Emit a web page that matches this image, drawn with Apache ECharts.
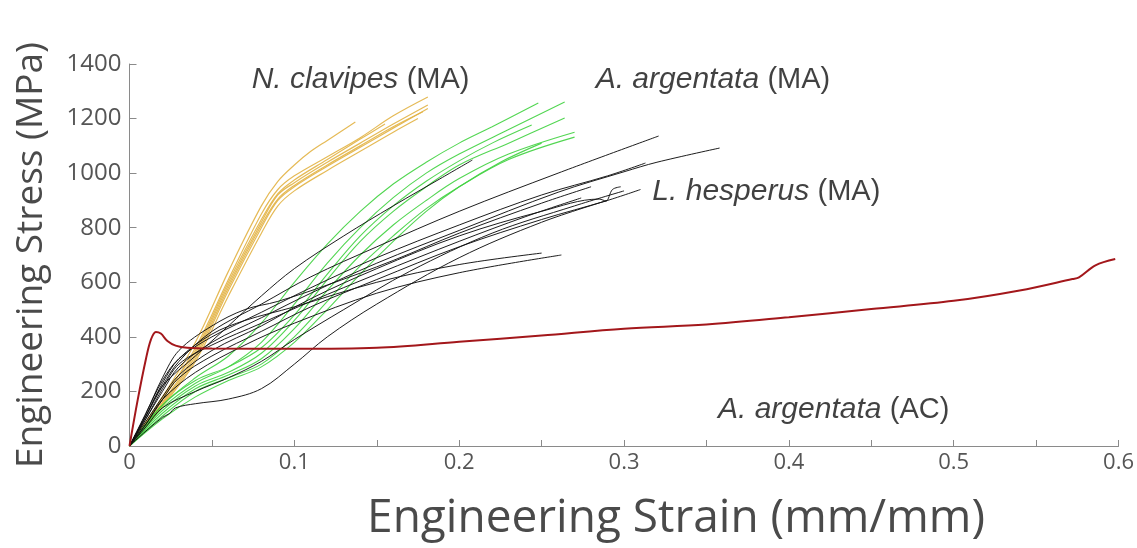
<!DOCTYPE html>
<html><head><meta charset="utf-8">
<script src="https://cdn.jsdelivr.net/npm/echarts@6/dist/echarts.min.js"></script>
<style>html,body{margin:0;padding:0;background:#fff}#c{width:1137px;height:548px}</style>
</head><body><div id="c"></div>
<script>
// ---- data (strain, stress MPa) ----
const xTicks = [0, 0.1, 0.2, 0.3, 0.4, 0.5, 0.6];
const yTicks = [0, 200, 400, 600, 800, 1000, 1200, 1400];

// N. clavipes (MA) - gold
const nc1 = [[0,0],[0.02,180],[0.04,380],[0.06,640],[0.08,880],[0.09,970],[0.1,1030],[0.11,1080],[0.12,1120],[0.137,1187]];
const nc2 = [[0,0],[0.02,170],[0.04,360],[0.06,610],[0.08,850],[0.09,940],[0.1,990],[0.12,1060],[0.14,1130],[0.16,1210],[0.181,1279]];
const nc3 = [[0,0],[0.02,160],[0.04,340],[0.06,590],[0.08,820],[0.09,920],[0.1,965],[0.12,1040],[0.14,1110],[0.16,1180],[0.181,1250]];
const nc4 = [[0,0],[0.02,150],[0.04,320],[0.06,570],[0.08,800],[0.09,900],[0.1,950],[0.12,1025],[0.14,1095],[0.16,1165],[0.181,1237]];
const nc5 = [[0,0],[0.02,145],[0.04,310],[0.06,550],[0.08,780],[0.09,880],[0.1,935],[0.12,1010],[0.14,1080],[0.16,1150],[0.175,1200]];
const nc6 = [[0,0],[0.02,175],[0.04,350],[0.06,600],[0.08,830],[0.09,925],[0.1,975],[0.12,1050],[0.14,1125],[0.155,1180]];
const nc7 = [[0,0],[0.02,155],[0.04,330],[0.06,580],[0.08,810],[0.09,905],[0.1,955],[0.12,1030],[0.14,1100],[0.16,1170],[0.178,1225]];

// A. argentata (MA) - green
const aa1 = [[0,0],[0.02,150],[0.04,250],[0.06,330],[0.08,450],[0.1,600],[0.12,740],[0.14,860],[0.16,960],[0.18,1040],[0.2,1110],[0.22,1170],[0.248,1257]];
const aa2 = [[0,0],[0.02,140],[0.04,230],[0.06,290],[0.08,380],[0.1,520],[0.12,670],[0.14,800],[0.16,910],[0.18,1000],[0.2,1070],[0.23,1160],[0.264,1261]];
const aa3 = [[0,0],[0.02,130],[0.04,220],[0.06,270],[0.08,340],[0.1,460],[0.12,610],[0.14,750],[0.16,860],[0.18,950],[0.2,1030],[0.23,1110],[0.264,1202]];
const aa4 = [[0,0],[0.02,120],[0.04,210],[0.06,260],[0.08,320],[0.1,430],[0.12,570],[0.14,700],[0.16,810],[0.18,900],[0.2,980],[0.23,1070],[0.27,1150]];
const aa5 = [[0,0],[0.02,110],[0.04,200],[0.06,250],[0.08,300],[0.1,400],[0.12,530],[0.14,660],[0.16,770],[0.18,870],[0.2,950],[0.23,1050],[0.27,1132]];
const aa6 = [[0,0],[0.02,150],[0.04,240],[0.06,290],[0.08,360],[0.1,480],[0.12,630],[0.14,770],[0.16,880],[0.18,970],[0.2,1045],[0.22,1110],[0.244,1176]];
const aa7 = [[0,0],[0.02,100],[0.04,180],[0.06,240],[0.08,290],[0.1,380],[0.12,500],[0.14,630],[0.16,750],[0.18,860],[0.2,950],[0.225,1040],[0.25,1110]];

// L. hesperus (MA) - black
const lh1 = [[0,0],[0.01,110],[0.02,220],[0.03,310],[0.05,420],[0.08,520],[0.11,620],[0.15,730],[0.2,860],[0.26,1000],[0.321,1136]];
const lh2 = [[0,0],[0.01,100],[0.02,200],[0.03,290],[0.05,380],[0.08,470],[0.11,560],[0.15,670],[0.2,790],[0.26,930],[0.3,1005],[0.32,1040],[0.358,1092]];
const lh3 = [[0,0],[0.01,120],[0.02,240],[0.03,320],[0.05,400],[0.08,490],[0.11,580],[0.15,690],[0.2,810],[0.25,920],[0.29,990],[0.313,1037]];
const lh4 = [[0,0],[0.01,90],[0.02,180],[0.03,260],[0.05,350],[0.08,440],[0.11,540],[0.15,650],[0.2,770],[0.25,860],[0.285,905],[0.289,898],[0.293,940],[0.298,950]];
const lh5 = [[0,0],[0.01,100],[0.02,210],[0.03,300],[0.05,370],[0.08,450],[0.11,530],[0.15,630],[0.2,750],[0.24,840],[0.274,909]];
const lh6 = [[0,0],[0.01,80],[0.02,170],[0.03,250],[0.05,330],[0.08,420],[0.11,510],[0.15,610],[0.2,730],[0.25,830],[0.29,900],[0.31,940]];
const lh7 = [[0,0],[0.01,110],[0.02,220],[0.04,330],[0.06,440],[0.08,550],[0.1,650],[0.13,770],[0.16,880],[0.19,985],[0.208,1048]];
const lh8 = [[0,0],[0.01,110],[0.02,230],[0.03,320],[0.05,410],[0.07,460],[0.1,510],[0.15,600],[0.2,665],[0.25,707]];
const lh9 = [[0,0],[0.01,80],[0.02,170],[0.04,270],[0.07,370],[0.1,450],[0.15,560],[0.2,635],[0.262,700]];
const lh10 = [[0,0],[0.01,55],[0.02,105],[0.024,118],[0.028,140],[0.04,155],[0.06,172],[0.08,210],[0.1,300],[0.12,400],[0.15,520],[0.2,690],[0.25,820],[0.29,900]];
const lh11 = [[0,0],[0.01,70],[0.02,140],[0.04,200],[0.06,250],[0.08,310],[0.1,390],[0.13,500],[0.17,640],[0.22,780],[0.27,880],[0.3,935]];
const lh12 = [[0,0],[0.01,120],[0.02,250],[0.03,350],[0.05,440],[0.07,500],[0.09,530],[0.12,590],[0.16,680],[0.2,780],[0.25,890],[0.28,950]];

// A. argentata (AC) - red
const ac1 = [[0,0],[0.005,170],[0.01,320],[0.013,390],[0.016,418],[0.019,412],[0.023,385],[0.028,368],[0.035,360],[0.05,357],[0.1,356],[0.15,360],[0.2,382],[0.25,405],[0.3,430],[0.35,445],[0.4,472],[0.45,502],[0.5,532],[0.54,570],[0.572,612],[0.576,618],[0.586,662],[0.598,685]];

// annotations: [x, y, italic part, plain part]
const annotations = [
  [0.0741, 1341, 'N. clavipes', '(MA)'],
  [0.2828, 1341, 'A. argentata', '(MA)'],
  [0.3172, 931, 'L. hesperus', '(MA)'],
  [0.357, 132, 'A. argentata', '(AC)']
];

const goldSet = [nc1, nc2, nc3, nc4, nc5, nc6, nc7];
const greenSet = [aa1, aa2, aa3, aa4, aa5, aa6, aa7];
const blackSet = [lh1, lh2, lh3, lh4, lh5, lh6, lh7, lh8, lh9, lh10, lh11, lh12];
const redSet = [ac1];

function lines(set, color, width, opacity) {
  return set.map(d => ({
    type: 'line', data: d, showSymbol: false, symbol: 'none', smooth: 0.35,
    lineStyle: { color: color, width: width, opacity: opacity }, silent: true, z: 2
  }));
}

const series = [].concat(
  lines(goldSet, '#e2b244', 1.2, 0.9),
  lines(greenSet, '#3fd13f', 1.1, 0.9),
  lines(blackSet, '#111', 1, 0.95),
  lines(redSet, '#a3171b', 2, 1),
  [{
    type: 'scatter', symbolSize: 0, silent: true, z: 5,
    data: annotations.map(a => ({ value: [a[0], a[1]], name: a[2], plain: a[3] })),
    label: {
      show: true, position: 'right', distance: 0,
      formatter: p => '{i|' + p.data.name + ' }{n|' + p.data.plain + '}',
      rich: {
        i: { fontFamily: 'Liberation Sans', fontStyle: 'italic', fontSize: 30, color: '#111' },
        n: { fontFamily: 'Liberation Sans', fontSize: 29, color: '#111' }
      }
    }
  }]
);

const chart = echarts.init(document.getElementById('c'), null, { renderer: 'canvas' });
chart.setOption({
  animation: false,
  backgroundColor: '#fff',
  grid: { left: 129.5, right: 15, top: 64, bottom: 102, containLabel: false },
  xAxis: {
    type: 'value', min: 0, max: 0.6, interval: 0.05,
    name: 'Engineering Strain (mm/mm)', nameLocation: 'middle', nameGap: 50,
    nameTextStyle: { fontFamily: 'Open Sans', fontSize: 46, color: '#4a4a4a', padding: [0, 0, 0, 104] },
    axisLine: { lineStyle: { color: '#8a8a8a', width: 1 } },
    axisTick: { inside: true, length: 6, lineStyle: { color: '#8a8a8a' } },
    axisLabel: {
      fontFamily: 'Open Sans', fontSize: 22, color: '#555', margin: 6,
      formatter: v => {
        const k = Math.round(v * 100);
        if (k % 10 !== 0) return '';
        const t = xTicks.find(q => Math.round(q * 100) === k);
        return t === 0 ? '0' : String(t);
      }
    },
    splitLine: { show: false }
  },
  yAxis: {
    type: 'value', min: 0, max: 1400, interval: 200,
    name: 'Engineering Stress (MPa)', nameLocation: 'middle', nameGap: 80, nameRotate: 90,
    nameTextStyle: { fontFamily: 'Open Sans', fontSize: 37, color: '#4a4a4a' },
    axisLine: { show: true, lineStyle: { color: '#8a8a8a', width: 1 } },
    axisTick: { show: true, inside: true, length: 7, lineStyle: { color: '#8a8a8a' } },
    axisLabel: {
      fontFamily: 'Open Sans', fontSize: 24, color: '#555', margin: 8,
      formatter: v => String(yTicks.find(q => q === v))
    },
    splitLine: { show: false }
  },
  series: series
});
</script>
</body></html>
